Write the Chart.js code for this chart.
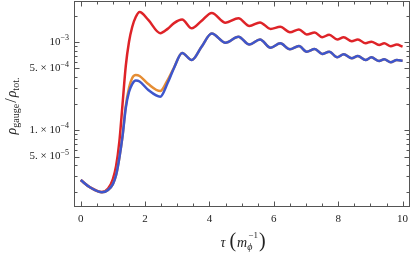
<!DOCTYPE html>
<html>
<head>
<meta charset="utf-8">
<script src="https://cdn.jsdelivr.net/npm/chart.js@4.4.0/dist/chart.umd.min.js"></script>
<style>
  html, body { margin: 0; padding: 0; background: #fff; }
  #wrap { width: 411px; height: 255px; }
</style>
</head>
<body>
<div id="wrap"><canvas id="myChart" width="411" height="255"></canvas></div>
<script>
// time in units of 1/m_phi
const tau = [0, 0.3, 0.66, 0.85, 1.0, 1.1, 1.2, 1.3, 1.4, 1.5,
  1.6, 1.71, 1.83, 2.1, 2.47, 2.7, 2.9, 3.15, 3.45, 3.75,
  4.07, 4.5, 4.9, 5.24, 5.57, 5.9, 6.2, 6.5, 6.78, 7.02,
  7.27, 7.5, 7.72, 7.97, 8.17, 8.42, 8.61, 8.85, 9.03, 9.27,
  9.43, 9.63, 9.82, 10];

const redSeries = [2.70e-5, 2.22e-5, 1.97e-5, 2.16e-5, 2.77e-5, 3.90e-5, 7.31e-5, 1.97e-4, 5.33e-4, 1.00e-3,
  1.48e-3, 1.92e-3, 2.19e-3, 1.78e-3, 1.26e-3, 1.41e-3, 1.64e-3, 1.80e-3, 1.43e-3, 1.73e-3,
  2.14e-3, 1.66e-3, 1.86e-3, 1.52e-3, 1.67e-3, 1.41e-3, 1.49e-3, 1.29e-3, 1.39e-3, 1.22e-3,
  1.28e-3, 1.13e-3, 1.21e-3, 1.07e-3, 1.13e-3, 1.02e-3, 1.07e-3, 9.66e-4, 1.01e-3, 9.24e-4,
  9.66e-4, 8.94e-4, 9.37e-4, 8.85e-4];

const orangeSeries = [2.70e-5, 2.22e-5, 1.96e-5, 2.08e-5, 2.43e-5, 3.08e-5, 4.81e-5, 8.55e-5, 1.87e-4, 3.00e-4,
  3.90e-4, 4.22e-4, 4.11e-4, 3.33e-4, 2.77e-4, 3.70e-4, 5.13e-4, 7.50e-4, 6.24e-4, 8.77e-4,
  1.25e-3, 9.82e-4, 1.15e-3, 9.37e-4, 1.07e-3, 8.61e-4, 9.66e-4, 8.26e-4, 9.01e-4, 7.76e-4,
  8.33e-4, 7.31e-4, 7.76e-4, 6.70e-4, 7.25e-4, 6.53e-4, 6.93e-4, 6.24e-4, 6.70e-4, 6.08e-4,
  6.36e-4, 5.88e-4, 6.24e-4, 6.13e-4];

const blueSeries = [2.70e-5, 2.22e-5, 1.96e-5, 2.08e-5, 2.43e-5, 3.08e-5, 4.81e-5, 8.55e-5, 1.78e-4, 2.70e-4,
  3.33e-4, 3.65e-4, 3.56e-4, 2.85e-4, 2.39e-4, 3.42e-4, 5.07e-4, 7.50e-4, 6.24e-4, 8.77e-4,
  1.25e-3, 9.82e-4, 1.15e-3, 9.37e-4, 1.07e-3, 8.61e-4, 9.66e-4, 8.26e-4, 9.01e-4, 7.76e-4,
  8.33e-4, 7.31e-4, 7.76e-4, 6.70e-4, 7.25e-4, 6.53e-4, 6.93e-4, 6.24e-4, 6.70e-4, 6.08e-4,
  6.36e-4, 5.88e-4, 6.24e-4, 6.13e-4];

const xTickLabels = [0, 2, 4, 6, 8, 10];
const yTickValues = [1e-3, 5e-4, 1e-4, 5e-5];
const yTickMantissa = ['', '5. \u00d7 ', '1. \u00d7 ', '5. \u00d7 '];
const yTickExponent = ['\u22123', '\u22124', '\u22124', '\u22125'];

const SERIF = '"Liberation Serif", "DejaVu Serif", serif';

function pts(vals) {
  return tau.map((t, i) => ({ x: t, y: vals[i] }));
}

// draws a run of [text, size, dy, italic, gap] pieces starting at x
function drawRun(ctx, pieces, x, y) {
  pieces.forEach(p => {
    ctx.font = (p[3] ? 'italic ' : '') + p[1] + 'px ' + SERIF;
    ctx.fillText(p[0], x, y + p[2]);
    x += ctx.measureText(p[0]).width + (p[4] || 0);
  });
  return x;
}
function runWidth(ctx, pieces) {
  let w = 0;
  pieces.forEach(p => {
    ctx.font = (p[3] ? 'italic ' : '') + p[1] + 'px ' + SERIF;
    w += ctx.measureText(p[0]).width + (p[4] || 0);
  });
  return w;
}

const framePlugin = {
  id: 'frame',
  afterDraw(chart) {
    const { ctx, chartArea: a, scales: { x, y } } = chart;
    const L = Math.round(a.left) + 0.5, R = Math.round(a.right) - 0.5;
    const T = Math.round(a.top) + 0.5, B = Math.round(a.bottom) - 0.5;
    ctx.save();
    ctx.strokeStyle = '#555';
    ctx.lineWidth = 1;
    ctx.strokeRect(L, T, R - L, B - T);
    ctx.beginPath();
    for (let k = 0; k <= 20; k++) {
      const v = k * 0.5;
      const px = Math.round(x.getPixelForValue(v)) + 0.5;
      const len = xTickLabels.includes(v) ? 5 : 3;
      ctx.moveTo(px, B); ctx.lineTo(px, B - len);
      ctx.moveTo(px, T); ctx.lineTo(px, T + len);
    }
    for (let e = -5; e <= -3; e++) {
      for (let m = 1; m <= 9; m++) {
        const v = m * Math.pow(10, e);
        if (v < y.min || v > y.max) continue;
        const py = Math.round(y.getPixelForValue(v)) + 0.5;
        const len = (m === 1 || m === 5) ? 5 : 3;
        ctx.moveTo(L, py); ctx.lineTo(L + len, py);
        ctx.moveTo(R, py); ctx.lineTo(R - len, py);
      }
    }
    ctx.stroke();

    ctx.fillStyle = '#222';
    ctx.textBaseline = 'middle';
    ctx.textAlign = 'center';
    ctx.font = '11px ' + SERIF;
    xTickLabels.forEach(v => {
      ctx.fillText(String(v), x.getPixelForValue(v), a.bottom + 12);
    });

    ctx.textAlign = 'left';
    yTickValues.forEach((v, i) => {
      const run = [[yTickMantissa[i] + '10', 11, 0, false], [yTickExponent[i], 8, -4, false]];
      const w = runWidth(ctx, run);
      drawRun(ctx, run, 69 - w, y.getPixelForValue(v));
    });

    // x axis title
    const xt = [['\u03c4', 14, 0, true, 4], ['(', 20, -1, false, 1], ['m', 14, 0, true],
      ['\u03d5', 10, 4, true, -4], ['\u22121', 9, -7, false, 1], [')', 20, -1, false]];
    const xw = runWidth(ctx, xt);
    drawRun(ctx, xt, 243 - xw / 2, 243);

    // y axis title, rotated
    ctx.translate(12, 106);
    ctx.rotate(-Math.PI / 2);
    const yt = [['\u03c1', 14, 0, true], ['gauge', 10, 4, false, 1], ['/', 16, 0, false, 1],
      ['\u03c1', 14, 0, true], ['tot.', 10, 4, false]];
    const yw = runWidth(ctx, yt);
    drawRun(ctx, yt, -yw / 2, 0);
    ctx.restore();
  }
};

function line(label, vals, color, order) {
  return {
    label: label,
    data: pts(vals),
    borderColor: color,
    backgroundColor: color,
    borderWidth: 2.5,
    pointRadius: 0,
    fill: false,
    cubicInterpolationMode: 'monotone',
    order: order
  };
}

const ctx = document.getElementById('myChart').getContext('2d');
const chart = new Chart(ctx, {
  type: 'line',
  data: {
    datasets: [
      line('blue', blueSeries, 'rgb(62, 86, 204)', 1),
      line('orange', orangeSeries, 'rgb(229, 141, 52)', 2),
      line('red', redSeries, 'rgb(222, 35, 40)', 3)
    ]
  },
  options: {
    responsive: false,
    animation: false,
    devicePixelRatio: 1,
    layout: { padding: { left: 74, right: 1, top: 1, bottom: 48 } },
    plugins: { legend: { display: false }, tooltip: { enabled: false } },
    scales: {
      x: { type: 'linear', min: -0.208, max: 10.23, display: false },
      y: { type: 'logarithmic', min: 1.334e-5, max: 2.924e-3, display: false }
    }
  },
  plugins: [framePlugin]
});
</script>
</body>
</html>
